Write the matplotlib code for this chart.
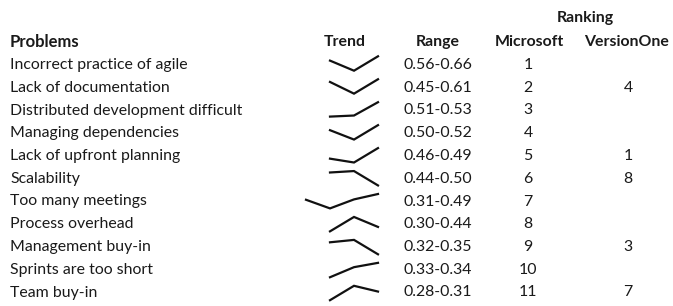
import numpy as np
import matplotlib.pyplot as plt

plt.rcParams['font.family'] = ['Lato', 'DejaVu Sans']

problems = ["Incorrect practice of agile", "Lack of documentation",
            "Distributed development difficult", "Managing dependencies",
            "Lack of upfront planning", "Scalability", "Too many meetings",
            "Process overhead", "Management buy-in", "Sprints are too short",
            "Team buy-in"]
ranges = ["0.56-0.66", "0.45-0.61", "0.51-0.53", "0.50-0.52", "0.46-0.49",
          "0.44-0.50", "0.31-0.49", "0.30-0.44", "0.32-0.35", "0.33-0.34",
          "0.28-0.31"]
microsoft = ["1", "2", "3", "4", "5", "6", "7", "8", "9", "10", "11"]
versionone = ["", "4", "", "", "1", "8", "", "", "3", "", "7"]

# trend values (4 periods, first missing for most rows)
nan = np.nan
trend = [
    [nan, 0.63, 0.56, 0.66],
    [nan, 0.58, 0.45, 0.61],
    [nan, 0.510, 0.5115, 0.53],
    [nan, 0.513, 0.50, 0.52],
    [nan, 0.468, 0.46, 0.49],
    [nan, 0.494, 0.50, 0.44],
    [0.418, 0.31, 0.4225, 0.49],
    [nan, 0.30, 0.44, 0.343],
    [nan, 0.345, 0.35, 0.32],
    [nan, 0.33, 0.337, 0.34],
    [nan, 0.28, 0.31, 0.298],
]

W, H = 673, 306
fig = plt.figure(figsize=(W / 100, H / 100), dpi=100)
ax = fig.add_axes([0, 0, 1, 1])
ax.set_xlim(0, W)
ax.set_ylim(H, 0)
ax.axis("off")

fs = 11.4
col = "#1a1a1a"
ax.text(585, 18, "Ranking", fontsize=fs, fontweight="bold", ha="center", va="center", color=col)
hy = 42
ax.text(10, hy, "Problems", fontsize=fs + 0.6, fontweight="bold", ha="left", va="center", color=col)
ax.text(345, hy, "Trend", fontsize=fs, fontweight="bold", ha="center", va="center", color=col)
ax.text(438, hy, "Range", fontsize=fs, fontweight="bold", ha="center", va="center", color=col)
ax.text(529, hy, "Microsoft", fontsize=fs, fontweight="bold", ha="center", va="center", color=col)
ax.text(627, hy, "VersionOne", fontsize=fs, fontweight="bold", ha="center", va="center", color=col)

y0, dy = 65, 22.75
s0, sdy = 63.5, 22.95
for i in range(len(problems)):
    y = y0 + i * dy
    ax.text(10, y, problems[i], fontsize=fs, ha="left", va="center", color=col)
    ax.text(438, y, ranges[i], fontsize=fs, ha="center", va="center", color=col)
    ax.text(528, y, microsoft[i], fontsize=fs, ha="center", va="center", color=col)
    ax.text(628, y, versionone[i], fontsize=fs, ha="center", va="center", color=col)

    # sparkline
    sy = s0 + i * sdy
    sx0, sx1 = 306, 378
    top, bot = sy - 7.2, sy + 7.2
    sax = fig.add_axes([sx0 / W, 1 - bot / H, (sx1 - sx0) / W, (bot - top) / H])
    vals = np.array(trend[i])
    sax.plot(range(4), vals, color="#111111", lw=1.6, solid_joinstyle="miter",
             clip_on=False)
    sax.set_xlim(0, 3)
    sax.set_ylim(np.nanmin(vals), np.nanmax(vals))
    sax.axis("off")
    sax.patch.set_visible(False)

fig.savefig("out.png", dpi=100)
